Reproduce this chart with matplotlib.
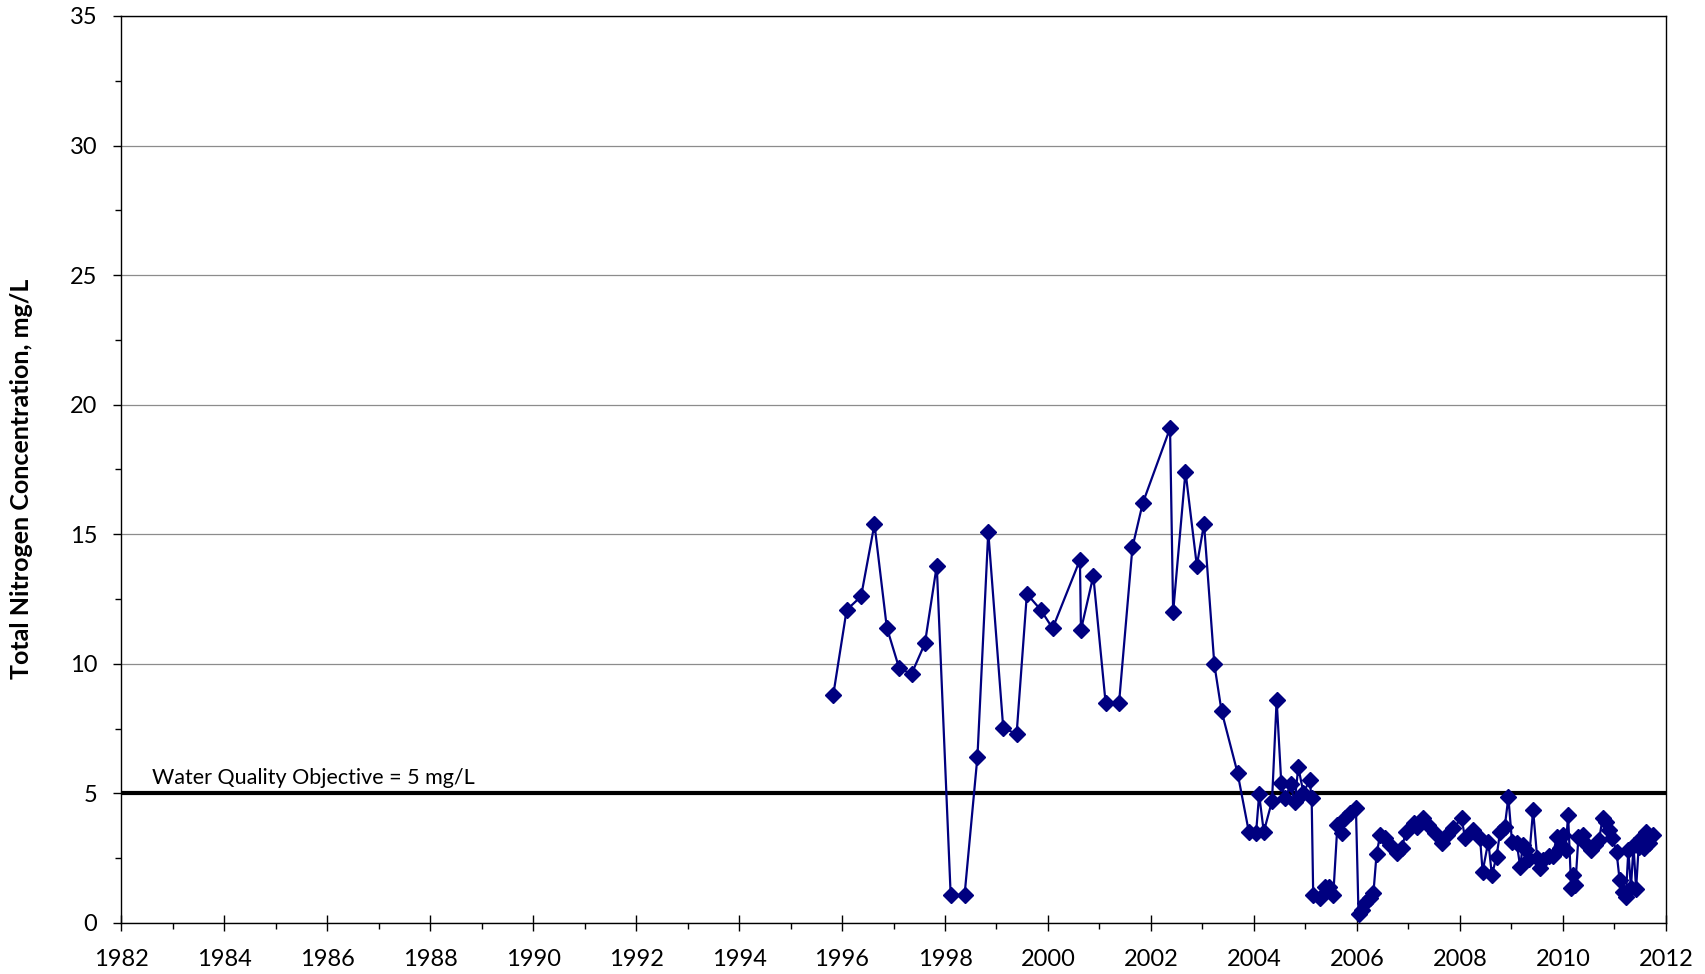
import matplotlib
matplotlib.use("Agg")
import matplotlib.pyplot as plt
from matplotlib.ticker import MultipleLocator

plt.rcParams['font.family'] = ['Lato', 'DejaVu Sans']

# sample dates (decimal years) and total nitrogen, mg/L
dates = [
    1995.83, 1996.09, 1996.37, 1996.63, 1996.87, 1997.11, 1997.35, 1997.61, 1997.84,
    1998.11, 1998.38, 1998.63, 1998.84, 1999.13, 1999.39, 1999.59, 1999.86, 2000.09,
    2000.62, 2000.64, 2000.88, 2001.12, 2001.38, 2001.64, 2001.84, 2002.37, 2002.43,
    2002.67, 2002.89, 2003.03, 2003.23, 2003.37, 2003.68, 2003.90, 2004.04, 2004.10,
    2004.19, 2004.35, 2004.44, 2004.53, 2004.61, 2004.71, 2004.79, 2004.86, 2004.96,
    2005.08, 2005.12, 2005.15, 2005.29, 2005.38, 2005.46, 2005.54, 2005.62, 2005.70,
    2005.77, 2005.86, 2005.98, 2006.03, 2006.09, 2006.16, 2006.25, 2006.32, 2006.38,
    2006.45, 2006.54, 2006.64, 2006.77, 2006.87, 2006.95, 2007.10, 2007.17, 2007.28,
    2007.38, 2007.51, 2007.66, 2007.74, 2007.87, 2008.03, 2008.10, 2008.25, 2008.39,
    2008.44, 2008.55, 2008.62, 2008.71, 2008.78, 2008.87, 2008.94, 2009.01, 2009.10,
    2009.17, 2009.22, 2009.28, 2009.34, 2009.42, 2009.50, 2009.55, 2009.62, 2009.72,
    2009.80, 2009.88, 2009.94, 2010.00, 2010.05, 2010.10, 2010.16, 2010.20, 2010.24,
    2010.30, 2010.38, 2010.46, 2010.54, 2010.62, 2010.70, 2010.77, 2010.84, 2010.90,
    2010.96, 2011.04, 2011.10, 2011.16, 2011.22, 2011.27, 2011.32, 2011.37, 2011.42,
    2011.47, 2011.52, 2011.57, 2011.62, 2011.68, 2011.74,
]
tn = [
    8.80, 12.08, 12.60, 15.39, 11.40, 9.83, 9.61, 10.79, 13.79,
    1.08, 1.08, 6.42, 15.10, 7.54, 7.28, 12.70, 12.08, 11.37,
    14.01, 11.31, 13.39, 8.47, 8.50, 14.50, 16.20, 19.09, 11.99,
    17.42, 13.79, 15.40, 9.98, 8.18, 5.80, 3.52, 3.46, 4.96,
    3.52, 4.70, 8.61, 5.40, 4.81, 5.36, 4.66, 6.01, 5.03,
    5.50, 4.81, 1.08, 0.97, 1.40, 1.40, 1.08, 3.78, 3.46,
    4.04, 4.24, 4.43, 0.35, 0.50, 0.76, 0.95, 1.17, 2.65,
    3.40, 3.27, 3.01, 2.69, 2.88, 3.52, 3.85, 3.72, 4.04,
    3.78, 3.46, 3.10, 3.40, 3.65, 4.04, 3.27, 3.59, 3.27,
    1.98, 3.14, 1.85, 2.56, 3.52, 3.72, 4.85, 3.14, 3.10,
    2.17, 3.00, 2.80, 2.45, 4.36, 2.50, 2.11, 2.43, 2.60,
    2.60, 3.30, 2.90, 3.40, 2.80, 4.17, 1.34, 1.85, 1.45,
    3.30, 3.40, 3.00, 2.80, 3.00, 3.20, 4.04, 3.90, 3.60,
    3.27, 2.75, 1.66, 1.20, 1.00, 2.80, 1.34, 3.00, 1.30,
    2.94, 3.27, 2.90, 3.50, 3.10, 3.40,
]
objective = 5
objective_label = "Water Quality Objective = 5 mg/L"

fig = plt.figure(figsize=(17.05, 9.74), dpi=100)
ax = fig.add_axes([0.0710, 0.0524, 0.9061, 0.9312])

ax.set_xlim(1982, 2012)
ax.set_ylim(0, 35)
ax.xaxis.set_major_locator(MultipleLocator(2))
ax.xaxis.set_minor_locator(MultipleLocator(1))
ax.yaxis.set_major_locator(MultipleLocator(5))
ax.yaxis.set_minor_locator(MultipleLocator(2.5))

ax.grid(axis='y', which='major', color='#8c8c8c', linewidth=0.9)
ax.set_axisbelow(True)

ax.axhline(objective, color='black', linewidth=3, zorder=2)
ax.text(1982.6, objective + 0.2, objective_label, fontsize=15.5, va='bottom', ha='left')

ax.plot(dates, tn, color='#000080', linewidth=1.6, marker='D', markersize=8.5,
        markerfacecolor='#000080', markeredgecolor='#000080', zorder=3)

ax.tick_params(axis='x', which='major', direction='inout', length=12, width=1,
               labelsize=17, pad=13)
ax.tick_params(axis='x', which='minor', direction='out', length=4.5, width=1)
ax.tick_params(axis='y', which='major', direction='out', length=6, width=1,
               labelsize=17, pad=11)
ax.tick_params(axis='y', which='minor', direction='out', length=4.5, width=1)
ax.tick_params(top=False, right=False)

for s in ax.spines.values():
    s.set_color('black')
    s.set_linewidth(1)

ax.set_ylabel("Total Nitrogen Concentration, mg/L", fontsize=18, fontweight='bold')
ax.yaxis.set_label_coords(-0.057, 0.49)

fig.savefig("out.png", dpi=100)
